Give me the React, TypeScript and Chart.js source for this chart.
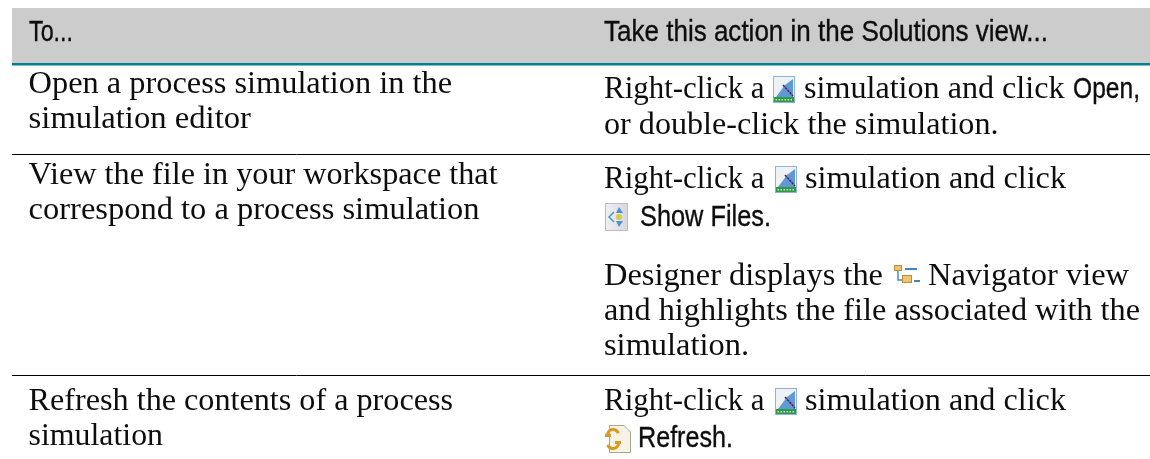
import React, { useEffect, useRef } from "react";
import { Chart, registerables } from "chart.js";

Chart.register(...registerables);

// Table content
const headerTexts = ["To...", "Take this action in the Solutions view..."];
const taskLines = [
  "Open a process simulation in the",
  "simulation editor",
  "View the file in your workspace that",
  "correspond to a process simulation",
  "Refresh the contents of a process",
  "simulation",
];
const serifActionRuns = [
  "Right-click a", "simulation and click",
  "or double-click the simulation.",
  "Right-click a", "simulation and click",
  "Designer displays the", "Navigator view",
  "and highlights the file associated with the",
  "simulation.",
  "Right-click a", "simulation and click",
];
const commandRuns = ["Open,", "Show Files.", "Refresh."];
const rowRuleValues = [154.5, 375.5];

// Placement of the runs above: [left, right, baseline]
const headerPlaces = [[29, 73, 41], [604, 1048, 41]];
const taskPlaces = [
  [28.6, 452, 93], [28.6, 251, 128],
  [28.6, 497.6, 184], [28.6, 479.6, 219],
  [28.6, 453, 410], [28.6, 163, 445],
];
const serifPlaces = [
  [604, 764.6, 98], [804, 1064.5, 98],
  [604, 998.5, 134],
  [604, 764.6, 188], [805, 1066, 188],
  [604, 883, 285], [928, 1129, 285],
  [604, 1140, 320],
  [604, 749, 355],
  [604, 764.6, 410], [805, 1066, 410],
];
const commandPlaces = [[1073, 1140, 98], [640, 771, 226], [638, 733, 447]];
const simIconPlaces = [[773, 76], [775, 166], [775, 388]];

const SERIF = '"Liberation Serif", serif';
const SANS = '"Liberation Sans Narrow", "Liberation Sans", sans-serif';

function fit(ctx: any, text: string, font: string, x0: number, x1: number, y: number, bold = 0) {
  ctx.save();
  ctx.font = font;
  ctx.textBaseline = "alphabetic";
  ctx.textAlign = "left";
  ctx.fillStyle = "#0d0d0d";
  ctx.strokeStyle = "#0d0d0d";
  const w = ctx.measureText(text).width;
  ctx.translate(x0, y);
  ctx.scale((x1 - x0) / w, 1);
  ctx.fillText(text, 0, 0);
  if (bold) {
    ctx.lineWidth = bold;
    ctx.strokeText(text, 0, 0);
  }
  ctx.restore();
}

function simIcon(ctx: any, x: number, y: number) {
  const w = 22, h = 27;
  ctx.fillStyle = "#eef1f5";
  ctx.fillRect(x, y, w, h);
  ctx.fillStyle = "#5f9ad6";
  ctx.beginPath();
  ctx.moveTo(x + 3, y + 21);
  ctx.lineTo(x + 12, y + 9);
  ctx.lineTo(x + 20, y + 3);
  ctx.lineTo(x + 20, y + 21);
  ctx.closePath();
  ctx.fill();
  ctx.strokeStyle = "#8fb2d8";
  ctx.lineWidth = 1;
  ctx.strokeRect(x + 0.5, y + 0.5, w - 1, h - 1);
  ctx.strokeStyle = "#54245f";
  ctx.lineWidth = 1.6;
  ctx.setLineDash([2.5, 0.8]);
  ctx.beginPath();
  ctx.moveTo(x + 10, y + 9);
  ctx.lineTo(x + 20, y + 20);
  ctx.stroke();
  ctx.setLineDash([]);
  ctx.fillStyle = "#2e9a48";
  ctx.fillRect(x + 1, y + 21, w - 2, 5);
  ctx.fillStyle = "#c6ecc0";
  for (let i = 0; i < 6; i++) ctx.fillRect(x + 2.5 + i * 3, y + 23, 1.5, 1.5);
}

function filesIcon(ctx: any, x: number, y: number) {
  const g = ctx.createLinearGradient(x, y, x + 23, y);
  g.addColorStop(0, "#f0f1f4");
  g.addColorStop(1, "#d6d8de");
  ctx.fillStyle = g;
  ctx.fillRect(x, y, 23, 28);
  ctx.strokeStyle = "#b9bcc4";
  ctx.lineWidth = 1;
  ctx.strokeRect(x + 0.5, y + 0.5, 22, 27);
  ctx.fillStyle = "#4f92cf";
  ctx.beginPath();
  ctx.moveTo(x + 14, y + 4); ctx.lineTo(x + 18, y + 10); ctx.lineTo(x + 11, y + 10); ctx.closePath();
  ctx.moveTo(x + 14, y + 24); ctx.lineTo(x + 18, y + 18); ctx.lineTo(x + 11, y + 18); ctx.closePath();
  ctx.fill();
  ctx.strokeStyle = "#4f92cf";
  ctx.lineWidth = 1.5;
  ctx.beginPath();
  ctx.moveTo(x + 9, y + 9); ctx.lineTo(x + 4, y + 14); ctx.lineTo(x + 9, y + 19);
  ctx.stroke();
  ctx.fillStyle = "#d9c94a";
  ctx.beginPath();
  ctx.arc(x + 14, y + 14, 3, 0, Math.PI * 2);
  ctx.fill();
}

function navIcon(ctx: any, x: number, y: number) {
  ctx.strokeStyle = "#3f86c4";
  ctx.lineWidth = 1.4;
  ctx.beginPath();
  ctx.moveTo(x + 5, y + 6); ctx.lineTo(x + 5, y + 16); ctx.lineTo(x + 11, y + 16);
  ctx.stroke();
  ctx.fillStyle = "#eec56f";
  ctx.strokeStyle = "#b98e3a";
  ctx.lineWidth = 1;
  ctx.fillRect(x + 1, y + 1, 8, 6);
  ctx.strokeRect(x + 1.5, y + 1.5, 7, 5);
  ctx.fillRect(x + 9, y + 11, 10, 8);
  ctx.strokeRect(x + 9.5, y + 11.5, 9, 7);
  ctx.fillStyle = "#3f86c4";
  ctx.fillRect(x + 12, y + 4, 12, 2);
  ctx.fillRect(x + 21, y + 16, 6, 2);
}

function refreshIcon(ctx: any, x: number, y: number) {
  ctx.fillStyle = "#f6f3e6";
  ctx.strokeStyle = "#a9a690";
  ctx.lineWidth = 1;
  ctx.beginPath();
  ctx.moveTo(x + 5.5, y + 0.5); ctx.lineTo(x + 20, y + 0.5); ctx.lineTo(x + 26.5, y + 7);
  ctx.lineTo(x + 26.5, y + 27.5); ctx.lineTo(x + 5.5, y + 27.5); ctx.closePath();
  ctx.fill(); ctx.stroke();
  ctx.strokeStyle = "#d99a1e";
  ctx.lineWidth = 3;
  ctx.beginPath();
  ctx.arc(x + 9, y + 10, 5.5, Math.PI, Math.PI * 1.9);
  ctx.stroke();
  ctx.beginPath();
  ctx.arc(x + 9, y + 18, 5.5, 0, Math.PI * 0.9);
  ctx.stroke();
  ctx.fillStyle = "#d99a1e";
  ctx.fillRect(x + 1, y + 9, 6, 3);
  ctx.fillRect(x + 11, y + 16, 6, 3);
}

const tablePlugin = {
  id: "tableText",
  afterDatasetsDraw(chart: any) {
    const { ctx, scales } = chart;
    const px = (v: number) => scales.x.getPixelForValue(v);
    const py = (v: number) => scales.y.getPixelForValue(v);
    const put = (texts: string[], places: number[][], font: string, bold = 0) =>
      texts.forEach((t, i) => fit(ctx, t, font, px(places[i][0]), px(places[i][1]), py(places[i][2]), bold));
    put(headerTexts, headerPlaces, `30px ${SANS}`, 0.35);
    put(taskLines, taskPlaces, `31px ${SERIF}`);
    put(serifActionRuns, serifPlaces, `31px ${SERIF}`);
    put(commandRuns, commandPlaces, `29px ${SANS}`, 0.35);
    simIconPlaces.forEach(([x, y]) => simIcon(ctx, px(x), py(y)));
    filesIcon(ctx, px(605), py(203));
    navIcon(ctx, px(893), py(264));
    refreshIcon(ctx, px(604), py(425));
  },
};

export default function App() {
  const ref = useRef<HTMLCanvasElement>(null);
  useEffect(() => {
    document.body.style.margin = "0";
    document.body.style.background = "#fff";
    const hLine = (y: number, color: string, width: number, fill?: any) => ({
      data: [{ x: 12, y }, { x: 1150, y }],
      borderColor: color,
      backgroundColor: color,
      borderWidth: width,
      pointRadius: 0,
      fill: fill ?? false,
    });
    const chart = new Chart(ref.current!, {
      type: "line",
      data: {
        datasets: [
          hLine(8, "#cccccc", 0, { value: 63 }),
          hLine(64.2, "#007f93", 2.4),
          ...rowRuleValues.map((y) => hLine(y, "#000000", 1)),
        ],
      },
      options: {
        animation: false,
        responsive: false,
        layout: { padding: 0 },
        plugins: { legend: { display: false }, tooltip: { enabled: false } },
        scales: {
          x: { type: "linear", display: false, min: 0, max: 1150 },
          y: { type: "linear", display: false, min: 0, max: 459, reverse: true },
        },
      },
      plugins: [tablePlugin],
    } as any);
    return () => chart.destroy();
  }, []);
  return <canvas ref={ref} width={1150} height={459} style={{ display: "block" }} />;
}
